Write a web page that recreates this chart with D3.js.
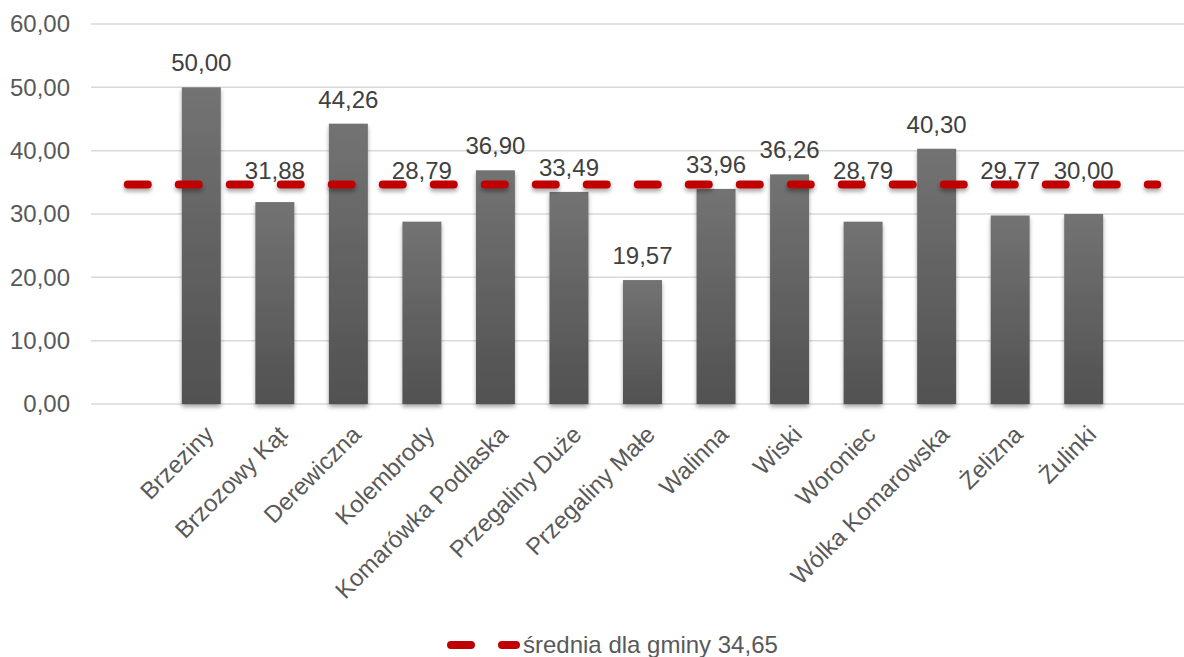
<!DOCTYPE html>
<html><head><meta charset="utf-8">
<script src="https://cdn.jsdelivr.net/npm/d3@7"></script>
<style>body{margin:0;background:#fff}svg{display:block}text{font-family:"Liberation Sans",Arial,sans-serif}</style>
</head><body><svg id="c" width="1184" height="657"></svg>
<script>
const categories = ["Brzeziny","Brzozowy Kąt","Derewiczna","Kolembrody","Komarówka Podlaska","Przegaliny Duże","Przegaliny Małe","Walinna","Wiski","Woroniec","Wólka Komarowska","Żelizna","Żulinki"];
const values = [50.00,31.88,44.26,28.79,36.90,33.49,19.57,33.96,36.26,28.79,40.30,29.77,30.00];
const average = 34.65;
const averageLabel = "średnia dla gminy 34,65";
const yTicks = [0,10,20,30,40,50,60];

const svg = d3.select("#c");
const fmt = v => v.toFixed(2).replace(".", ",");
const defs = svg.append("defs");
const grad = defs.append("linearGradient").attr("id","bg").attr("x1",0).attr("y1",0).attr("x2",0).attr("y2",1);
grad.append("stop").attr("offset","0%").attr("stop-color","#737373");
grad.append("stop").attr("offset","100%").attr("stop-color","#515151");
const f = defs.append("filter").attr("id","sh").attr("x","-30%").attr("y","-30%").attr("width","160%").attr("height","160%");
f.append("feDropShadow").attr("dx",0).attr("dy",3).attr("stdDeviation",2.2).attr("flood-color","#000").attr("flood-opacity",0.35);
const f2 = defs.append("filter").attr("id","shl").attr("filterUnits","userSpaceOnUse")
  .attr("x",0).attr("y",0).attr("width",1184).attr("height",657);
f2.append("feDropShadow").attr("dx",0).attr("dy",3).attr("stdDeviation",2.2).attr("flood-color","#000").attr("flood-opacity",0.35);

// slots: an empty slot on each side (line spans them)
const slots = ["__a", ...categories, "__b"];
const x = d3.scaleBand().domain(slots).range([91, 1194]).paddingInner(0.47).paddingOuter(0.235);
const y = d3.scaleLinear().domain([0,60]).range([404,24]);

// gridlines
svg.append("g").selectAll("line").data(yTicks).join("line")
  .attr("x1",91).attr("x2",1194).attr("y1",d=>y(d)).attr("y2",d=>y(d))
  .attr("stroke","#d9d9d9").attr("stroke-width",1.5);
// y axis labels
const ya = svg.append("g").attr("transform","translate(70,0)")
  .call(d3.axisLeft(y).tickValues(yTicks).tickFormat(fmt).tickSize(0).tickPadding(0));
ya.select(".domain").remove();
ya.selectAll("text").attr("font-size",24).attr("fill","#595959").attr("font-family","Liberation Sans, Arial, sans-serif");

// bars
svg.append("g").selectAll("rect").data(values).join("rect")
  .attr("x",(d,i)=>x(categories[i])).attr("width",x.bandwidth())
  .attr("y",d=>y(d)).attr("height",d=>y(0)-y(d))
  .attr("fill","url(#bg)").attr("filter","url(#sh)");

// average line
const line = d3.line().x(d=>x(d)+x.bandwidth()/2).y(()=>y(average));
svg.append("path").datum(slots).attr("d",line)
  .attr("fill","none").attr("stroke","#c00000").attr("stroke-width",8)
  .attr("stroke-linecap","round").attr("stroke-dasharray","20 31").attr("filter","url(#shl)");

// data labels
const yAvg = y(average);
svg.append("g").selectAll("text").data(values).join("text")
  .attr("x",(d,i)=>x(categories[i])+x.bandwidth()/2)
  .attr("y",d=>{let b=y(d)-16; if(b>yAvg-6 && b<yAvg+50) b=yAvg-6; return b;})
  .attr("text-anchor","middle").attr("font-size",24).attr("fill","#404040").text(fmt);

// x labels
svg.append("g").selectAll("text").data(categories).join("text")
  .attr("transform",d=>`translate(${x(d)+x.bandwidth()/2+14},436) rotate(-45)`)
  .attr("text-anchor","end").attr("font-size",24).attr("fill","#595959").text(d=>d);

// legend
const lg = svg.append("g");
lg.append("line").attr("x1",451).attr("x2",516).attr("y1",645).attr("y2",645)
  .attr("stroke","#c00000").attr("stroke-width",8).attr("stroke-linecap","round").attr("stroke-dasharray","20 31");
lg.append("text").attr("x",523).attr("y",653).attr("font-size",24).attr("fill","#595959").text(averageLabel);
</script></body></html>
